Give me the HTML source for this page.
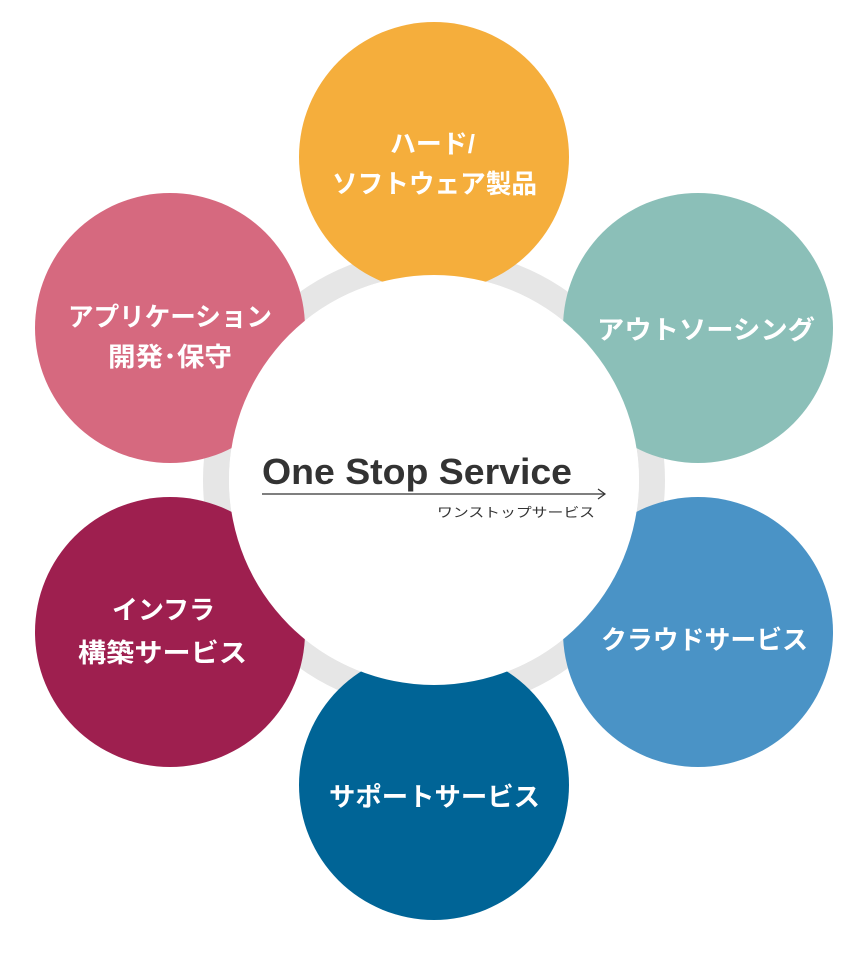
<!DOCTYPE html>
<html><head><meta charset="utf-8"><style>
body{margin:0;background:#fff;}
svg text{font-family:"Liberation Sans","Noto Sans CJK JP",sans-serif;}
</style></head><body>
<svg width="863" height="960" viewBox="0 0 863 960" xmlns="http://www.w3.org/2000/svg">
<circle cx="434" cy="480" r="218" fill="none" stroke="#E6E6E6" stroke-width="26"/>
<circle cx="434" cy="157" r="135" fill="#F5AE3C"/>
<circle cx="698" cy="328" r="135" fill="#8BBFB8"/>
<circle cx="698" cy="632" r="135" fill="#4A93C6"/>
<circle cx="434" cy="785" r="135" fill="#006496"/>
<circle cx="170" cy="632" r="135" fill="#9E1F4F"/>
<circle cx="170" cy="328" r="135" fill="#D6697F"/>
<circle cx="434" cy="480" r="205" fill="#fff"/>
<g fill="#fff" font-weight="bold" font-size="26">
<text x="390" y="153" textLength="85" lengthAdjust="spacingAndGlyphs">ハード/</text>
<text x="332" y="193" textLength="205" lengthAdjust="spacingAndGlyphs">ソフトウェア製品</text>
<text x="597" y="339" textLength="218" lengthAdjust="spacingAndGlyphs">アウトソーシング</text>
<text x="601" y="649" textLength="207" lengthAdjust="spacingAndGlyphs">クラウドサービス</text>
<text x="329" y="806" textLength="211" lengthAdjust="spacingAndGlyphs">サポートサービス</text>
<text x="112" y="619" textLength="103" lengthAdjust="spacingAndGlyphs">インフラ</text>
<text x="78" y="662" textLength="169" lengthAdjust="spacingAndGlyphs">構築サービス</text>
<text x="68" y="326" textLength="204" lengthAdjust="spacingAndGlyphs">アプリケーション</text>
<text x="108" y="366" textLength="124" lengthAdjust="spacingAndGlyphs">開発･保守</text>
</g>
<text x="262" y="484" font-size="36" font-weight="600" fill="#333" textLength="310" lengthAdjust="spacingAndGlyphs">One Stop Service</text>
<line x1="262" y1="494" x2="604" y2="494" stroke="#333" stroke-width="1.2"/>
<polyline points="598,489 605,494 598,499" fill="none" stroke="#333" stroke-width="1.2"/>
<text x="437" y="517" font-size="13" fill="#333" textLength="158" lengthAdjust="spacingAndGlyphs">ワンストップサービス</text>
</svg>
</body></html>
